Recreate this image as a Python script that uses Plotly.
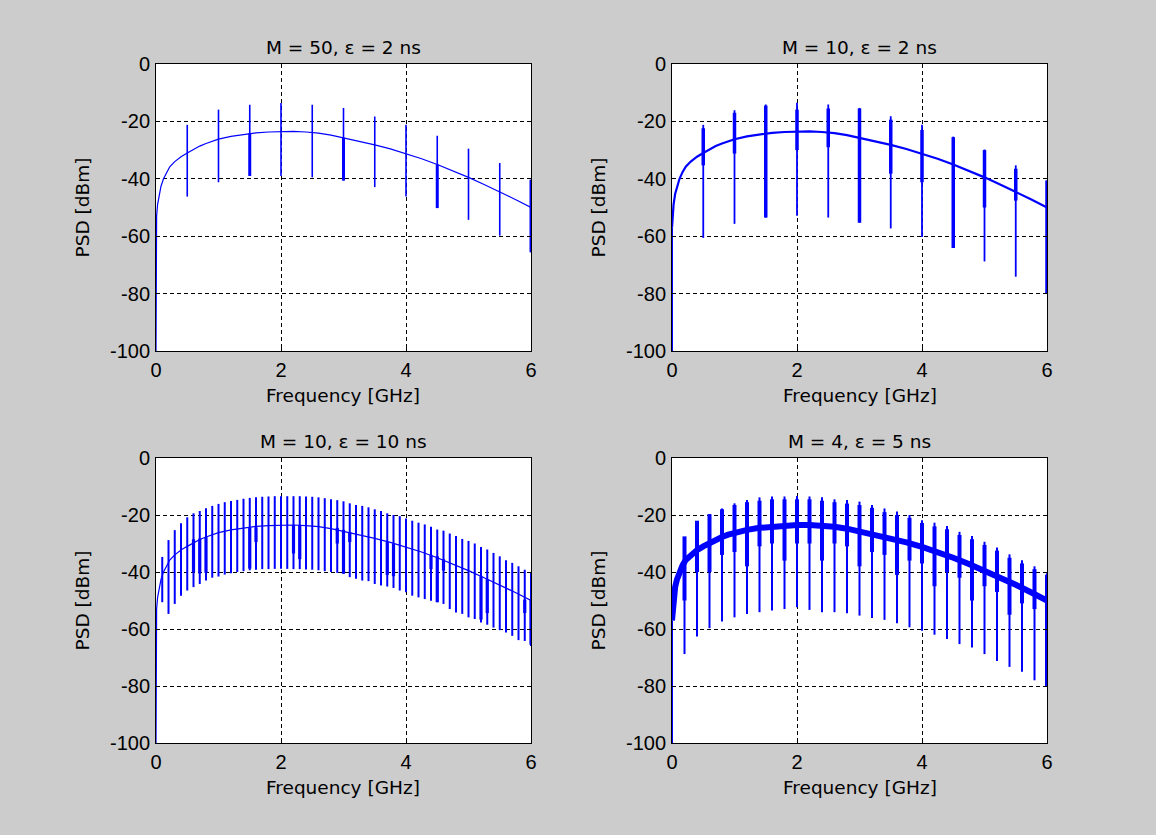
import plotly.graph_objects as go

BLUE = "#0000ff"
TICK_FONT = "Liberation Sans, Arial, Helvetica, sans-serif"
TEXT_FONT = "DejaVu Sans, Verdana, sans-serif"

# ---------------- data ----------------
titles = ["M = 50, ε = 2 ns", "M = 10, ε = 2 ns", "M = 10, ε = 10 ns", "M = 4, ε = 5 ns"]
x_label = "Frequency [GHz]"
y_label = "PSD [dBm]"
x_tick_vals = [0, 2, 4, 6]
x_tick_text = ["0", "2", "4", "6"]
y_tick_vals = [0, -20, -40, -60, -80, -100]
y_tick_text = ["0", "-20", "-40", "-60", "-80", "-100"]

# smooth PSD envelope (shared by all panels)
env_f = [0.0, 0.0, 0.01, 0.025, 0.05, 0.08, 0.12, 0.17, 0.22, 0.3, 0.4, 0.5, 0.6, 0.7, 0.8, 0.9,
         1.0, 1.2, 1.4, 1.6, 1.8, 2.0, 2.2, 2.4, 2.6, 2.8, 3.0, 3.25, 3.5, 3.75, 4.0, 4.25,
         4.5, 4.75, 5.0, 5.25, 5.5, 5.75, 6.0]
env_db = [-100, -57, -53, -49, -45.3, -42.6, -40, -37.6, -35.8, -34.0, -32.3, -31.0, -29.7, -28.6,
          -27.7, -26.9, -26.2, -25.2, -24.5, -24.0, -23.7, -23.5, -23.5, -23.7, -24.1, -24.8,
          -25.7, -26.9, -28.2, -29.6, -31.2, -33.0, -35.0, -37.2, -39.5, -42.0, -44.5, -47.2, -50.0]

# panel 1: M = 50, eps = 2 ns
p1_f = [0.5, 1.0, 1.5, 2.0, 2.5, 3.0, 3.5, 4.0, 4.5, 5.0, 5.5, 6.0]
p1_top = [-21.2, -15.9, -14.2, -13.6, -14.2, -15.3, -18.3, -21.2, -25.0, -29.5, -34.5, -40.3]
p1_bot = [-46.2, -41.2, -39.0, -39.0, -39.5, -40.6, -42.9, -46.2, -50.2, -54.3, -59.8, -65.6]
p1_thick_f = [1.5, 3.0, 4.5, 6.0]
p1_thick_hi = [-24.2, -25.7, -35.0, -40.3]
p1_thick_lo = [-39.0, -40.6, -50.2, -65.6]

# panel 2: M = 10, eps = 2 ns
p2_f = [0.5, 1.0, 1.5, 2.0, 2.5, 3.0, 3.5, 4.0, 4.5, 5.0, 5.5, 6.0]
p2_top = [-21.2, -16.1, -14.1, -13.5, -14.1, -15.3, -18.2, -21.2, -25.3, -29.8, -35.3, -40.6]
p2_bot = [-60.6, -55.7, -53.5, -52.9, -53.5, -55.3, -57.3, -60.3, -64.1, -68.8, -74.1, -80.0]
p2_burst_hi = [-22.4, -17.0, -14.5, -15.9, -15.5, -15.5, -19.4, -23.0, -25.5, -30.0, -36.5, -40.6]
p2_burst_lo = [-35.3, -31.2, -53.5, -30.0, -29.0, -55.3, -38.2, -41.2, -64.1, -50.0, -47.6, -80.0]

# panel 3: M = 10, eps = 10 ns (lines every 100 MHz)
p3_f = [0.1, 0.2, 0.3, 0.4, 0.5, 0.6, 0.7, 0.8, 0.9, 1.0, 1.1, 1.2, 1.3, 1.4, 1.5, 1.6, 1.7,
        1.8, 1.9, 2.0, 2.1, 2.2, 2.3, 2.4, 2.5, 2.6, 2.7, 2.8, 2.9, 3.0, 3.1, 3.2, 3.3, 3.4,
        3.5, 3.6, 3.7, 3.8, 3.9, 4.0, 4.1, 4.2, 4.3, 4.4, 4.5, 4.6, 4.7, 4.8, 4.9, 5.0, 5.1,
        5.2, 5.3, 5.4, 5.5, 5.6, 5.7, 5.8, 5.9, 6.0]
p3_top = [-34.7, -28.8, -25.3, -22.9, -20.8, -19.4, -18.6, -17.6, -16.8, -16.1, -15.5, -15.1,
          -14.7, -14.3, -14.0, -13.8, -13.6, -13.5, -13.4, -13.4, -13.4, -13.4, -13.4, -13.5,
          -13.6, -13.8, -14.1, -14.5, -14.8, -15.2, -15.9, -16.5, -16.8, -17.3, -18.0, -18.6,
          -19.4, -20.0, -20.4, -21.2, -22.0, -22.7, -23.3, -24.1, -25.1, -25.5, -26.5, -27.4,
          -28.4, -29.1, -30.0, -31.2, -32.1, -33.3, -34.5, -35.9, -36.8, -38.0, -39.2, -40.0]
p3_bot = [-50.6, -54.7, -51.2, -48.3, -46.5, -45.3, -44.2, -43.0, -42.0, -41.6, -40.9, -40.4,
          -40.0, -39.7, -39.4, -39.2, -39.0, -39.0, -38.9, -38.9, -38.9, -39.0, -39.0, -39.1,
          -39.2, -39.4, -39.7, -40.0, -40.3, -40.6, -41.8, -42.4, -43.0, -43.2, -44.2, -44.7,
          -45.1, -45.6, -46.5, -47.1, -48.3, -48.9, -49.5, -50.1, -50.6, -51.2, -53.0, -54.2,
          -54.7, -55.9, -56.5, -57.7, -58.5, -59.5, -60.4, -61.2, -62.4, -63.9, -64.2, -66.0]
p3_thick_f = [0.6, 0.7, 0.8, 1.5, 1.6, 2.2, 2.3, 2.9, 3.0, 3.1, 3.7, 3.8, 4.4, 4.5, 4.6,
              5.2, 5.3, 5.9, 6.0]
p3_thick_hi = [-28.5, -28.3, -27.8, -24.5, -24.3, -23.5, -23.5, -24.5, -25.2, -26.0, -29.5,
               -30.0, -34.0, -34.5, -35.5, -41.5, -42.5, -49.7, -49.7]
p3_thick_lo = [-40.0, -40.5, -40.3, -38.8, -29.5, -33.5, -35.5, -30.0, -40.6, -29.5, -41.0,
               -41.5, -39.0, -50.6, -39.5, -56.7, -54.4, -54.4, -65.5]

# panel 4: M = 4, eps = 5 ns (lines every 200 MHz)
p4_f = [0.2, 0.4, 0.6, 0.8, 1.0, 1.2, 1.4, 1.6, 1.8, 2.0, 2.2, 2.4, 2.6, 2.8, 3.0, 3.2, 3.4,
        3.6, 3.8, 4.0, 4.2, 4.4, 4.6, 4.8, 5.0, 5.2, 5.4, 5.6, 5.8, 6.0]
p4_top = [-28.8, -23.2, -19.7, -17.7, -15.9, -14.7, -13.8, -13.5, -13.5, -13.3, -13.5, -13.8,
          -14.5, -14.7, -15.3, -16.5, -17.7, -18.8, -20.0, -21.8, -22.7, -23.9, -25.9, -27.4,
          -29.4, -31.4, -33.8, -35.9, -38.0, -40.4]
p4_bot = [-68.8, -62.6, -59.7, -57.4, -55.9, -54.7, -54.1, -53.5, -53.0, -52.4, -53.3, -54.1,
          -54.1, -54.5, -55.3, -56.1, -56.8, -58.0, -59.4, -60.6, -62.0, -63.5, -65.3, -66.5,
          -68.8, -71.2, -73.3, -75.0, -78.0, -80.0]
p4_burst_hi = [-27.5, -22.0, -19.7, -18.0, -16.5, -15.5, -15.0, -14.5, -14.5, -14.5, -14.5,
               -15.0, -15.5, -16.0, -16.5, -17.5, -19.0, -20.0, -21.0, -22.8, -24.0, -25.0,
               -27.0, -28.5, -30.5, -32.5, -35.0, -37.0, -39.0, -41.0]
p4_burst_lo = [-50.0, -40.0, -40.0, -34.0, -33.0, -38.0, -31.0, -30.0, -36.0, -30.0, -30.0,
               -36.0, -30.0, -31.0, -38.0, -33.0, -34.0, -41.0, -36.0, -37.0, -45.0, -40.0,
               -42.0, -50.0, -45.0, -47.0, -55.0, -51.0, -53.0, -80.0]

# ---------------- figure ----------------
W, H = 1156, 835
ax_px = [  # (left, right, top, bottom) in pixels
    (156, 531, 64, 351),
    (672, 1047, 64, 351),
    (156, 531, 458, 743),
    (672, 1047, 458, 743),
]


def segments(fs, lo, hi):
    xs, ys = [], []
    for f, a, b in zip(fs, lo, hi):
        xs += [f, f, None]
        ys += [a, b, None]
    return xs, ys


fig = go.Figure()


def add_line(panel, x, y, width):
    suffix = "" if panel == 1 else str(panel)
    fig.add_trace(go.Scatter(x=x, y=y, mode="lines", line=dict(color=BLUE, width=width),
                             xaxis="x" + suffix, yaxis="y" + suffix, showlegend=False,
                             hoverinfo="skip", connectgaps=False))


# panel 1
add_line(1, env_f, env_db, 1.2)
add_line(1, *segments(p1_f, p1_bot, p1_top), 1.6)
add_line(1, *segments(p1_thick_f, p1_thick_lo, p1_thick_hi), 3)
# panel 2
add_line(2, env_f[:2], env_db[:2], 2)
add_line(2, env_f[1:], env_db[1:], 2.2)
add_line(2, *segments(p2_f, p2_bot, p2_top), 1.8)
add_line(2, *segments(p2_f, p2_burst_lo, p2_burst_hi), 3.5)
# panel 3
add_line(3, env_f, env_db, 1.2)
add_line(3, *segments(p3_f, p3_bot, p3_top), 2)
add_line(3, *segments(p3_thick_f, p3_thick_lo, p3_thick_hi), 3.2)
# panel 4
add_line(4, env_f[:2], env_db[:2], 2)
add_line(4, env_f[1:], env_db[1:], 6)
add_line(4, *segments(p4_f, p4_bot, p4_top), 2)
add_line(4, *segments(p4_f, p4_burst_lo, p4_burst_hi), 4)

tickfont = dict(family=TICK_FONT, size=20, color="black")
textfont = dict(family=TEXT_FONT, size=18.5, color="black")
layout = dict(
    width=W, height=H, autosize=False,
    margin=dict(l=0, r=0, t=0, b=0, pad=0),
    paper_bgcolor="#cccccc", plot_bgcolor="white",
    showlegend=False,
)
annotations = []
for i, (l, r, t, b) in enumerate(ax_px, start=1):
    suffix = "" if i == 1 else str(i)
    common = dict(showgrid=True, gridcolor="black", gridwidth=1, griddash="4px,3px",
                  showline=True, linecolor="black", linewidth=1, mirror="ticks",
                  ticks="inside", ticklen=4, tickcolor="black", zeroline=False,
                  tickfont=tickfont, fixedrange=True, automargin=False)
    layout["xaxis" + suffix] = dict(common, domain=[l / W, r / W], range=[0, 6],
                                    tickvals=x_tick_vals, ticktext=x_tick_text,
                                    anchor="y" + suffix, ticklabelstandoff=1)
    layout["yaxis" + suffix] = dict(common, domain=[1 - b / H, 1 - t / H], range=[-100, 0],
                                    tickvals=y_tick_vals, ticktext=y_tick_text,
                                    anchor="x" + suffix, ticklabelstandoff=1)
    cx = (l + r) / 2 / W
    cy = 1 - (t + b) / 2 / H
    annotations.append(dict(text=titles[i - 1], x=cx, y=1 - (t - 17) / H, xref="paper",
                            yref="paper", showarrow=False, xanchor="center", yanchor="middle",
                            font=textfont))
    annotations.append(dict(text=x_label, x=cx, y=1 - (b + 44) / H, xref="paper",
                            yref="paper", showarrow=False, xanchor="center", yanchor="middle",
                            font=textfont))
    annotations.append(dict(text=y_label, x=(l - 74) / W, y=cy, xref="paper",
                            yref="paper", showarrow=False, xanchor="center", yanchor="middle",
                            textangle=-90, font=textfont))
layout["annotations"] = annotations
fig.update_layout(**layout)

fig.write_html(
    "out.html",
    config={"displayModeBar": False},
    post_script="document.body.style.margin='0';document.body.style.overflow='hidden';",
)
